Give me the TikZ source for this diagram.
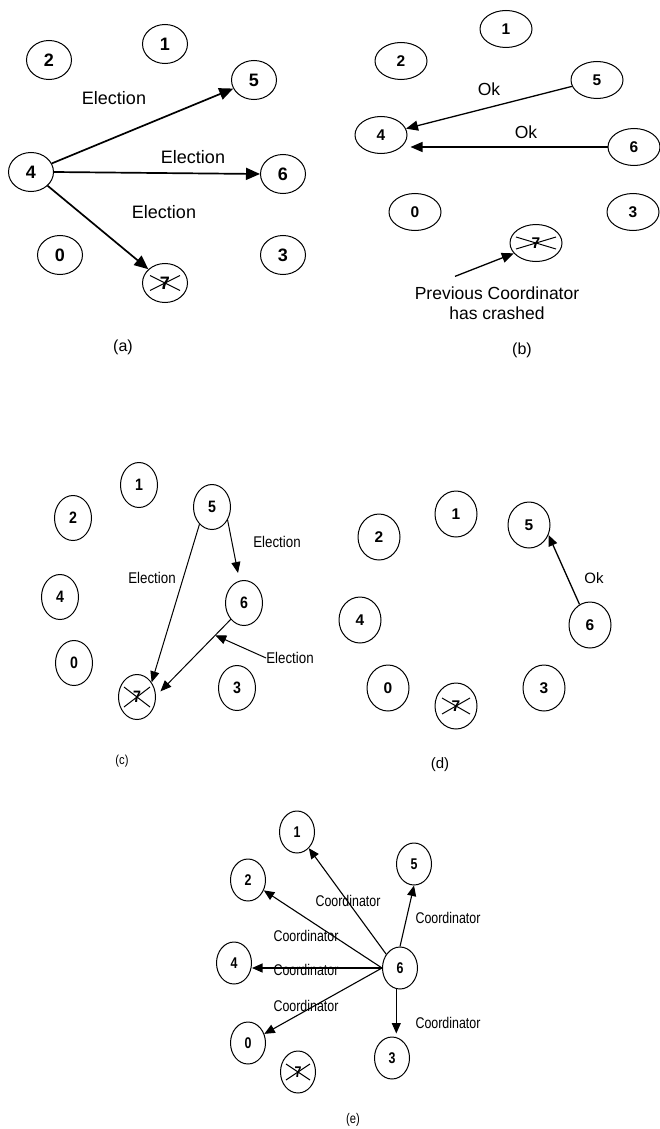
\documentclass[tikz,border=0pt]{standalone}
\usepackage{fontspec}
\setmainfont{Liberation Sans}
\newfontfamily\condc[FakeStretch=0.86]{Liberation Sans}
\newfontfamily\conde[FakeStretch=0.80]{Liberation Sans}
\usetikzlibrary{shapes.geometric,arrows.meta,calc}
\begin{document}
\begin{tikzpicture}[x=1pt,y=-1pt,
  proc/.style={ellipse,draw,line width=1pt,inner sep=0pt},
  pa/.style={proc,minimum width=45pt,minimum height=39pt,font=\fontsize{18}{19}\selectfont\bfseries},
  pb/.style={proc,minimum width=52pt,minimum height=37pt,font=\fontsize{15.5}{16}\selectfont\bfseries},
  pc/.style={proc,minimum width=37pt,minimum height=45pt,font=\condc\fontsize{16.5}{17}\selectfont\bfseries},
  pd/.style={proc,minimum width=42pt,minimum height=46pt,font=\fontsize{15.5}{16}\selectfont\bfseries},
  pe/.style={proc,minimum width=35pt,minimum height=42pt,font=\conde\fontsize{15.5}{16}\selectfont\bfseries},
  crossed/.style 2 args={path picture={\draw[line width=1pt]
     ($(path picture bounding box.center)+(-#1,-#2)$) -- ($(path picture bounding box.center)+(#1,#2)$)
     ($(path picture bounding box.center)+(-#1,#2)$) -- ($(path picture bounding box.center)+(#1,-#2)$);}},
  lbl/.style={inner sep=0pt},
  la/.style={lbl,font=\fontsize{18}{20}\selectfont},
  lb/.style={lbl,font=\fontsize{17.5}{20}\selectfont},
  lc/.style={lbl,font=\condc\fontsize{15.5}{17}\selectfont},
  ld/.style={lbl,font=\fontsize{15}{17}\selectfont},
  le/.style={lbl,font=\conde\fontsize{15.5}{17}\selectfont},
  arra/.style={line width=1.7pt,-{Triangle[length=14pt,width=12pt]}},
  arrb/.style={line width=1.3pt,-{Triangle[length=12pt,width=10pt]}},
  arrc/.style={line width=1pt,-{Triangle[length=11pt,width=9pt]}},
  arrd/.style={line width=1.3pt,-{Triangle[length=11pt,width=9pt]}},
  arre/.style={line width=1.1pt,-{Triangle[length=10.5pt,width=9pt]}}
]
\useasboundingbox[fill=white] (0,0) rectangle (659,1129);

% ---------------- (a)
\node[pa] (a1) at (165,44) {1};
\node[pa] (a2) at (49,60) {2};
\node[pa] (a5) at (254,80) {5};
\node[pa] (a4) at (31,172) {4};
\node[pa] (a6) at (283,174) {6};
\node[pa] (a0) at (60,255) {0};
\node[pa] (a3) at (283,255) {3};
\node[pa,crossed={15}{7.5}] (a7) at (165,283) {7};
\node[la] (ael1) at (114,98) {Election};
\node[la] (ael2) at (193,157) {Election};
\node[la] (ael3) at (164,212) {Election};
\node[lbl,font=\fontsize{16}{18}\selectfont] (capa) at (123,347) {(a)};
\draw[arra] (a4) -- (a5);
\draw[arra] (a4.east) -- (a6.west);
\draw[arra] (a4) -- (a7);

% ---------------- (b)
\node[pb] (b1) at (506,29) {1};
\node[pb] (b2) at (401,61) {2};
\node[pb] (b5) at (597,80) {5};
\node[pb] (b4) at (381,135) {4};
\node[pb] (b6) at (634,147) {6};
\node[pb] (b0) at (415,212) {0};
\node[pb] (b3) at (633,212) {3};
\node[pb,crossed={20}{6}] (b7) at (536,243) {7};
\node[lb] (bok1) at (489,89) {Ok};
\node[lb] (bok2) at (526,132) {Ok};
\node[lb,align=center] (btxt) at (497,303) {Previous Coordinator\\has crashed};
\node[lbl,font=\fontsize{16}{18}\selectfont] (capb) at (522,350) {(b)};
\draw[arrb] (b5) -- (b4);
\draw[arrb] (b6.west) -- ($(b6.west -| b4.east)+(3,0)$);
\coordinate (bst) at ($(btxt.north)+(-42,-10)$);
\draw[arrb] (bst) -- (b7.205);

% ---------------- (c)
\node[pc] (c1) at (139,485) {1};
\node[pc] (c2) at (73,518) {2};
\node[pc] (c5) at (212,507) {5};
\node[pc] (c4) at (60,597) {4};
\node[pc] (c6) at (244,603) {6};
\node[pc] (c0) at (74,663) {0};
\node[pc] (c3) at (237,688) {3};
\node[pc,crossed={13}{10}] (c7) at (137,697) {7};
\node[lc] (cel1) at (277,542) {Election};
\node[lc] (cel2) at (152,578) {Election};
\node[lc] (cel3) at (290,658) {Election};
\node[lbl,font=\condc\fontsize{13}{15}\selectfont] (capc) at (122,761) {(c)};
\draw[arrc] (c5.-126) -- (c7.45);
\draw[arrc] (c5.-40) -- ($(c6.north)+(-6,-7)$);
\coordinate (c67e) at ($(c7.17)+(5,0)$);
\draw[arrc] (c6.-129) -- (c67e);
\coordinate (cmid) at ($(c6.-129)!0.22!(c67e)$);
\draw[arrc] (cel3.west) -- (cmid);

% ---------------- (d)
\node[pd] (d1) at (456,514) {1};
\node[pd] (d2) at (379,537) {2};
\node[pd] (d5) at (529,525) {5};
\node[pd] (d4) at (360,620) {4};
\node[pd] (d6) at (590,625) {6};
\node[pd] (d0) at (388,688) {0};
\node[pd] (d3) at (544,688) {3};
\node[pd,crossed={14}{8}] (d7) at (456,706) {7};
\node[ld] (dok) at (594,578) {Ok};
\node[lbl,font=\fontsize{15}{17}\selectfont] (capd) at (440,765) {(d)};
\draw[arrd] (d6.117) -- (d5.-27);

% ---------------- (e)
\node[pe] (e1) at (297,832) {1};
\node[pe] (e5) at (414,864) {5};
\node[pe] (e2) at (248,880) {2};
\node[pe] (e4) at (234,963) {4};
\node[pe] (e6) at (400,968) {6};
\node[pe] (e0) at (248,1043) {0};
\node[pe] (e3) at (392,1058) {3};
\node[pe,crossed={12}{8}] (e7) at (298,1072) {7};
\node[le] (ec1) at (348,901) {Coordinator};
\node[le] (ec5) at (448,918) {Coordinator};
\node[le] (ec2) at (306,936) {Coordinator};
\node[le] (ec4) at (306,970) {Coordinator};
\node[le] (ec0) at (306,1006) {Coordinator};
\node[le] (ec3) at (448,1023) {Coordinator};
\node[lbl,font=\conde\fontsize{14}{16}\selectfont] (cape) at (353,1120) {(e)};
\draw[arre] (e6.135) -- (e1);
\draw[arre] (e6.west) -- (e2);
\draw[arre] (e6.west) -- (e6.west -| e4.east);
\draw[arre] (e6.west) -- (e0);
\draw[arre] (e6.north) -- (e5.south);
\draw[arre] (e6.-100) -- ($(e6.-100 |- e3.north)+(0,-3)$);
\end{tikzpicture}
\end{document}
